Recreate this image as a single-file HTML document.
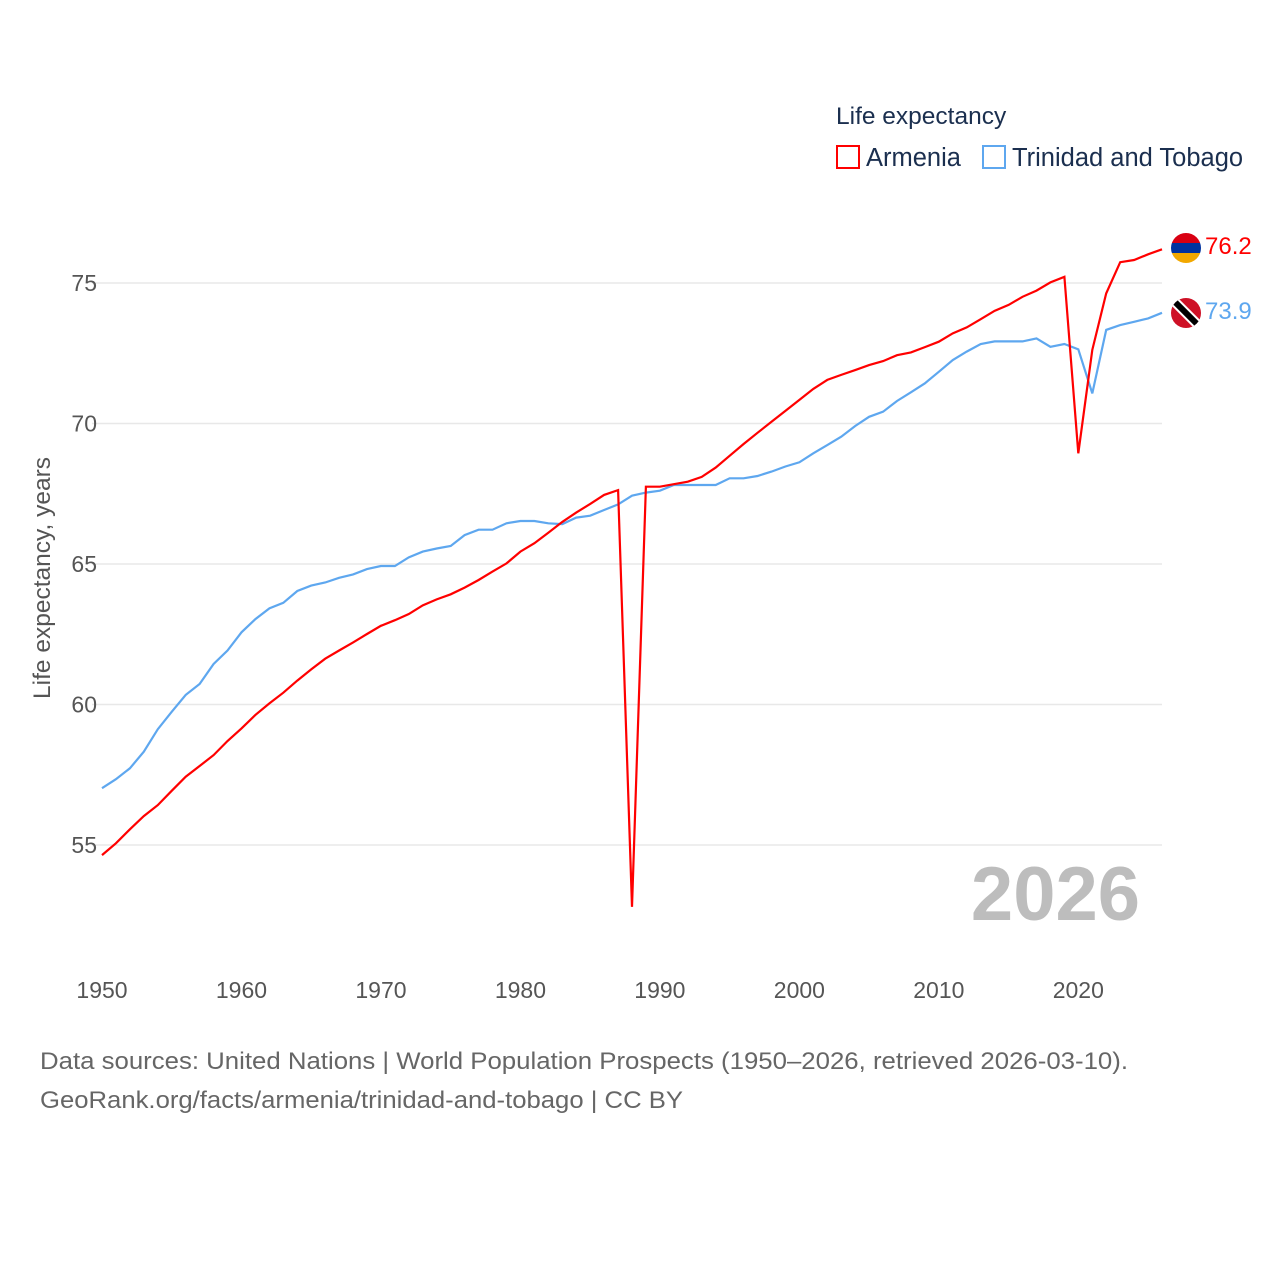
<!DOCTYPE html>
<html><head><meta charset="utf-8">
<style>
body{margin:0;background:#fff;}
svg{display:block;font-family:"Liberation Sans",sans-serif;}
</style></head>
<body>
<svg id="chart" width="1280" height="1280" viewBox="0 0 1280 1280" xmlns="http://www.w3.org/2000/svg">
<g id="grid"></g>
<g id="yticks"></g>
<g id="xticks"></g>
<text transform="translate(50,578) rotate(-90)" text-anchor="middle" font-size="24.5" fill="#555">Life expectancy, years</text>
<text x="1140" y="920" text-anchor="end" font-size="76" font-weight="bold" fill="#bdbdbd">2026</text>
<g id="series"></g>
<g>
<text x="836" y="124" font-size="24.5" fill="#1b2f4f">Life expectancy</text>
<rect x="837" y="146" width="22" height="22" fill="none" stroke="#ff0000" stroke-width="2"/>
<text x="866" y="166" font-size="25.5" fill="#1b2f4f">Armenia</text>
<rect x="983" y="146" width="22" height="22" fill="none" stroke="#5ea7ef" stroke-width="2"/>
<text x="1012" y="166" font-size="25.5" fill="#1b2f4f">Trinidad and Tobago</text>
</g>
<g>
<text x="40" y="1069" font-size="24" fill="#666" textLength="1088" lengthAdjust="spacingAndGlyphs">Data sources: United Nations | World Population Prospects (1950–2026, retrieved 2026-03-10).</text>
<text x="40" y="1108" font-size="24" fill="#666" textLength="643" lengthAdjust="spacingAndGlyphs">GeoRank.org/facts/armenia/trinidad-and-tobago | CC BY</text>
</g>
<defs>
<clipPath id="c1"><circle cx="1186" cy="248" r="15"/></clipPath>
<clipPath id="c2"><circle cx="1186" cy="313" r="15"/></clipPath>
</defs>
<g clip-path="url(#c1)">
<rect x="1171" y="233" width="30" height="10" fill="#d90012"/>
<rect x="1171" y="243" width="30" height="10" fill="#0033a0"/>
<rect x="1171" y="253" width="30" height="10" fill="#f2a800"/>
</g>
<g clip-path="url(#c2)">
<rect x="1171" y="298" width="30" height="30" fill="#ce1126"/>
<line x1="1172" y1="299" x2="1200" y2="327" stroke="#fff" stroke-width="10"/>
<line x1="1172" y1="299" x2="1200" y2="327" stroke="#000" stroke-width="6"/>
</g>
<text id="lblA" x="1205" y="254" font-size="24" fill="#ff0000"></text>
<text id="lblT" x="1205" y="319" font-size="24" fill="#5ea7ef"></text>
</svg>
<script>
const years = [];
for (let y = 1950; y <= 2026; y++) years.push(y);
const armenia = [54.64,55.06,55.56,56.03,56.42,56.93,57.43,57.81,58.2,58.7,59.15,59.63,60.04,60.42,60.85,61.25,61.63,61.92,62.21,62.51,62.8,63.0,63.22,63.53,63.74,63.92,64.16,64.43,64.73,65.02,65.44,65.74,66.11,66.5,66.83,67.14,67.46,67.63,52.8,67.75,67.75,67.84,67.93,68.1,68.43,68.85,69.27,69.67,70.06,70.45,70.84,71.23,71.55,71.73,71.9,72.08,72.22,72.43,72.53,72.72,72.91,73.21,73.42,73.71,74.01,74.22,74.51,74.73,75.02,75.22,68.94,72.62,74.63,75.74,75.82,76.02,76.2];
const trinidad = [57.02,57.34,57.73,58.32,59.12,59.74,60.34,60.73,61.44,61.92,62.57,63.04,63.42,63.62,64.04,64.23,64.34,64.51,64.63,64.82,64.93,64.93,65.24,65.44,65.55,65.64,66.03,66.22,66.22,66.45,66.53,66.53,66.45,66.42,66.65,66.72,66.92,67.12,67.43,67.54,67.61,67.81,67.81,67.81,67.81,68.05,68.05,68.13,68.29,68.47,68.62,68.94,69.23,69.53,69.91,70.24,70.42,70.8,71.11,71.43,71.84,72.26,72.56,72.83,72.92,72.92,72.92,73.03,72.73,72.83,72.64,71.07,73.33,73.5,73.62,73.74,73.94];
const yTicks = [55,60,65,70,75];
const xTicks = [1950,1960,1970,1980,1990,2000,2010,2020];
const endLabels = ["76.2","73.9"];

const NS = "http://www.w3.org/2000/svg";
const X0 = 102, X1 = 1162;
const xs = yr => X0 + (yr - 1950) * (X1 - X0) / (2026 - 1950);
const ys = v => 283 + (75 - v) * (845 - 283) / 20;

const grid = document.getElementById('grid');
const yt = document.getElementById('yticks');
yTicks.forEach(t => {
  const l = document.createElementNS(NS, 'line');
  
  
  l.setAttribute('x1', X0 - 10); l.setAttribute('x2', X1);
  l.setAttribute('y1', ys(t)); l.setAttribute('y2', ys(t));
  l.setAttribute('stroke', '#e8e8e8'); l.setAttribute('stroke-width', '1.5');
  grid.appendChild(l);
  const tx = document.createElementNS(NS, 'text');
  
  
  tx.setAttribute('x', 97); tx.setAttribute('y', ys(t) + 8);
  tx.setAttribute('text-anchor', 'end'); tx.setAttribute('font-size', '23'); tx.setAttribute('fill', '#555');
  tx.textContent = t;
  yt.appendChild(tx);
});
const xt = document.getElementById('xticks');
xTicks.forEach(t => {
  const tx = document.createElementNS(NS, 'text');
  
  
  tx.setAttribute('x', xs(t)); tx.setAttribute('y', 998);
  tx.setAttribute('text-anchor', 'middle'); tx.setAttribute('font-size', '23'); tx.setAttribute('fill', '#555');
  tx.textContent = t;
  xt.appendChild(tx);
});
const sg = document.getElementById('series');
function line(vals, color, name) {
  const p = document.createElementNS(NS, 'polyline');
  
  
  p.setAttribute('points', vals.map((v, i) => xs(years[i]).toFixed(1) + ',' + ys(v).toFixed(1)).join(' '));
  p.setAttribute('fill', 'none'); p.setAttribute('stroke', color); p.setAttribute('stroke-width', '2.2');
  p.setAttribute('stroke-linejoin', 'miter'); p.setAttribute('stroke-miterlimit', '2');
  sg.appendChild(p);
}
line(trinidad, '#5ea7ef', 'trinidad-line');
line(armenia, '#ff0000', 'armenia-line');
document.getElementById('lblA').textContent = endLabels[0];
document.getElementById('lblT').textContent = endLabels[1];
</script>
</body></html>
